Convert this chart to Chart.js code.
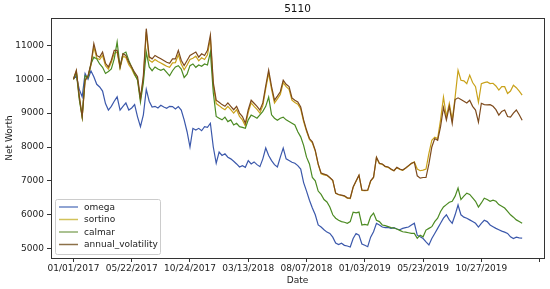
<!DOCTYPE html>
<html>
<head>
<meta charset="utf-8">
<script src="https://cdn.jsdelivr.net/npm/chart.js@4/dist/chart.umd.min.js"></script>
<style>
  html, body { margin: 0; padding: 0; background: #fff; }
  #wrap { width: 550px; height: 289px; }
</style>
</head>
<body>
<div id="wrap"><canvas id="lineChart" width="550" height="289"></canvas></div>
<script>
// row index of each sample (every 5 trading days)
const dayIndex = Array.from({ length: 155 }, (_, k) => k * 5);

const xTickPos = [0, 100, 200, 300, 400, 500, 600, 700, 800];
const xTickLabels = ['01/01/2017', '05/22/2017', '10/24/2017', '03/13/2018', '08/07/2018',
                     '01/03/2019', '05/23/2019', '10/27/2019', ''];
const yTicks = [5000, 6000, 7000, 8000, 9000, 10000, 11000];

const omega = [
  10000, 10100, 9700, 9480, 10170, 10000, 10250, 10070, 9850, 9770,
  9650, 9280, 9090, 9200, 9350, 9480, 9090, 9200, 9300, 9090,
  9150, 9250, 8890, 8600, 8950, 9700, 9350, 9180, 9200, 9150,
  9230, 9180, 9140, 9200, 9190, 9120, 9190, 9090, 8800, 8450,
  8000, 8550, 8500, 8550, 8480, 8600, 8580, 8700, 8000, 7520,
  7850, 7750, 7800, 7700, 7650, 7580, 7500, 7410, 7450, 7400,
  7600, 7500, 7560, 7480, 7420, 7650, 7970, 7750, 7600, 7480,
  7410, 7700, 7970, 7650, 7600, 7550, 7520, 7450, 7350, 6950,
  6700, 6430, 6200, 6000, 5700, 5640, 5560, 5490, 5450, 5340,
  5170, 5120, 5160, 5100, 5080, 5050, 5300, 5450, 5400, 5140,
  5100, 5060, 5340, 5500, 5750, 5700, 5640, 5620, 5630, 5600,
  5620, 5580, 5560, 5600, 5620, 5640, 5700, 5750, 5400, 5350,
  5300, 5200, 5110, 5300, 5450, 5600, 5750, 5900, 6000, 5850,
  5750, 6000, 6290, 6000, 5930, 5900, 5850, 5800, 5750, 5640,
  5750, 5840, 5800, 5700, 5650, 5600, 5560, 5520, 5490, 5450,
  5350, 5300, 5340, 5320, 5310
];

const sortino = [
  10000, 10240, 9480, 8880, 9950, 10080, 10400, 10950, 10620, 10580,
  10700, 10400, 10300, 10500, 10760, 10800, 10320, 10680, 10640, 10430,
  10300, 10120, 10000, 9400, 10020, 11400, 10560, 10500, 10580, 10520,
  10480, 10430, 10380, 10350, 10480, 10490, 10720, 10450, 10280, 10420,
  10580, 10620, 10680, 10540, 10630, 10580, 10720, 11200, 9820, 9280,
  9220, 9150, 9100, 9200, 9100, 9000, 9100, 8900, 8800, 8620,
  9020, 9300, 9200, 9110, 9000, 9220, 9720, 10180, 9700, 9300,
  9420, 9550, 9900, 9780, 9700, 9380, 9310, 9260, 9120, 8750,
  8460, 8220, 8120, 7880, 7480, 7210, 7180, 7160, 7090, 7010,
  6630, 6590, 6570, 6550, 6490, 6480, 6810, 6990, 7160, 6720,
  6710, 6720, 6990, 7100, 7690, 7510, 7490, 7420, 7400, 7340,
  7300, 7390, 7340, 7310, 7370, 7440, 7510, 7560, 7350, 7300,
  7320, 7350, 7810, 8200, 8290, 8250, 8800, 9470, 8900, 9290,
  8800, 9470, 10265, 9970, 9950, 9870, 10120, 9900, 9780, 9320,
  9870, 9900, 9920, 9870, 9880, 9800, 9680, 9780, 9780, 9580,
  9650, 9820, 9750, 9650, 9530
];

const calmar = [
  10000, 10200, 9400, 8880, 10100, 10050, 10450, 10650, 10600, 10450,
  10350, 10170, 10230, 10300, 10600, 11100, 10360, 10750, 10800, 10550,
  10350, 10150, 9970, 9330, 9900, 10800, 10360, 10250, 10360, 10300,
  10260, 10300, 10200, 10100, 10250, 10360, 10400, 10300, 10050, 10150,
  10400, 10450, 10350, 10420, 10380, 10450, 10420, 10800, 9600, 8900,
  8850, 8800, 8880, 8750, 8800, 8650, 8700, 8600, 8580, 8550,
  8800, 8940, 8900, 8850, 8950, 9050, 9200, 9470, 8950, 8850,
  8790, 8850, 8880, 8800, 8750, 8700, 8650, 8450, 8300, 8050,
  7700, 7500, 7100, 7000, 6700, 6600, 6450, 6380, 6230, 6000,
  5900, 5840, 5800, 5780, 5750, 5800, 6080, 6060, 6080, 5700,
  5720, 5700, 5950, 6050, 5840, 5800, 5700, 5680, 5650, 5620,
  5610, 5580, 5540, 5500, 5490, 5470, 5450, 5450, 5310, 5400,
  5350, 5550, 5600, 5650, 5800, 5900, 6100, 6230, 6300, 6370,
  6400, 6550, 6790, 6450, 6550, 6640, 6600, 6500, 6400, 6230,
  6350, 6490, 6450, 6400, 6430, 6400, 6300, 6250, 6200, 6100,
  6000, 5930, 5850, 5800, 5750
];

const annualVolatility = [
  10000, 10265, 9500, 8900, 9970, 10100, 10450, 11050, 10700, 10650,
  10800, 10470, 10360, 10560, 10850, 10850, 10360, 10750, 10700, 10500,
  10360, 10200, 10070, 9440, 10100, 11490, 10660, 10600, 10700, 10650,
  10600, 10550, 10500, 10470, 10600, 10600, 10850, 10560, 10400, 10550,
  10700, 10750, 10800, 10650, 10750, 10700, 10850, 11300, 9900, 9380,
  9320, 9250, 9200, 9300, 9200, 9100, 9200, 9000, 8900, 8700,
  9100, 9380, 9290, 9200, 9090, 9300, 9800, 10265, 9780, 9380,
  9500, 9630, 9970, 9850, 9780, 9450, 9380, 9330, 9180, 8800,
  8500, 8250, 8150, 7900, 7500, 7230, 7200, 7170, 7100, 7020,
  6640, 6600, 6580, 6560, 6500, 6490, 6820, 7000, 7170, 6730,
  6720, 6730, 7000, 7110, 7700, 7520, 7500, 7430, 7410, 7350,
  7300, 7400, 7350, 7320, 7380, 7450, 7520, 7550, 7150, 7080,
  7100, 7100, 7500, 8000, 8250, 8200, 8600, 9170, 8800, 9200,
  8700, 9400, 9450, 9400, 9350, 9300, 9380, 9200, 9090, 8730,
  9290, 9250, 9240, 9250, 9200, 9100, 8940, 9050, 9090, 8900,
  8880, 9000, 9090, 8950, 8790
];

const seriesNames = ['omega', 'sortino', 'calmar', 'annual_volatility'];
const seriesValues = [omega, sortino, calmar, annualVolatility];
const seriesColors = ['#3b58ab', '#c9a21a', '#4b8a22', '#7d4a1c'];
const legendColors = ['#6b86c4', '#d2c25a', '#8fae6e', '#8c7048'];

const FONT = 'DejaVu Sans';

// title, frame and legend drawn in matplotlib style
const extras = {
  id: 'extras',
  afterDraw(chart) {
    const ctx = chart.ctx;
    const a = chart.chartArea;
    ctx.save();
    ctx.strokeStyle = '#333';
    ctx.lineWidth = 1;
    ctx.strokeRect(Math.round(a.left) + 0.5, Math.round(a.top) + 0.5,
                   Math.round(a.right - a.left), Math.round(a.bottom - a.top));

    ctx.fillStyle = '#111';
    ctx.font = '10.5px "' + FONT + '"';
    ctx.textAlign = 'center';
    ctx.textBaseline = 'middle';
    ctx.fillText('5110', (a.left + a.right) / 2, 9);

    // legend
    const lx = a.left + 4, ly = a.bottom - 59, lw = 105, lh = 55;
    ctx.fillStyle = 'rgba(255,255,255,0.8)';
    ctx.strokeStyle = '#cccccc';
    ctx.beginPath();
    ctx.roundRect(lx + 0.5, ly + 0.5, lw, lh, 2);
    ctx.fill();
    ctx.stroke();
    ctx.font = '9px "' + FONT + '"';
    ctx.textAlign = 'left';
    seriesNames.forEach((name, i) => {
      const y = ly + 8 + i * 12.5;
      ctx.strokeStyle = legendColors[i];
      ctx.lineWidth = 1.5;
      ctx.beginPath();
      ctx.moveTo(lx + 4, y);
      ctx.lineTo(lx + 23, y);
      ctx.stroke();
      ctx.fillStyle = '#222';
      ctx.fillText(name, lx + 29, y + 0.5);
    });
    ctx.restore();
  }
};

function createLineChart() {
  const ctx = document.getElementById('lineChart').getContext('2d');

  const datasets = seriesNames.map((name, i) => ({
    label: name,
    data: seriesValues[i].map((v, k) => ({ x: dayIndex[k], y: v })),
    borderColor: seriesColors[i],
    backgroundColor: seriesColors[i],
    borderWidth: 1.2,
    pointRadius: 0,
    tension: 0,
    order: 4 - i
  }));

  const tickFont = { family: FONT, size: 9 };

  new Chart(ctx, {
    type: 'line',
    data: { datasets: datasets },
    plugins: [extras],
    options: {
      responsive: false,
      animation: false,
      layout: { padding: { top: 18, right: 6, left: 0, bottom: 0 } },
      plugins: {
        legend: { display: false },
        title: { display: false },
        tooltip: { enabled: false }
      },
      scales: {
        x: {
          type: 'linear',
          min: -38.5,
          max: 807.5,
          afterBuildTicks: axis => { axis.ticks = xTickPos.map(v => ({ value: v })); },
          afterFit: scale => { scale.height = 31; },
          grid: { display: true, drawOnChartArea: false, drawTicks: true, tickLength: 4, color: '#333' },
          border: { display: false },
          ticks: {
            autoSkip: false,
            maxRotation: 0,
            padding: 1,
            color: '#222',
            font: tickFont,
            callback: value => {
              const k = xTickPos.indexOf(value);
              return k >= 0 ? xTickLabels[k] : '';
            }
          },
          title: { display: true, text: 'Date', color: '#222', font: tickFont, padding: { top: 2, bottom: 3 } }
        },
        y: {
          min: 4726,
          max: 11805,
          afterBuildTicks: axis => { axis.ticks = yTicks.map(v => ({ value: v })); },
          afterFit: scale => { scale.width = 51; },
          grid: { display: true, drawOnChartArea: false, drawTicks: true, tickLength: 4, color: '#333' },
          border: { display: false },
          ticks: { padding: 3, color: '#222', font: tickFont, callback: value => String(value) },
          title: { display: true, text: 'Net Worth', color: '#222', font: tickFont, padding: { top: 4, bottom: 4 } }
        }
      }
    }
  });
}

createLineChart();
</script>
</body>
</html>
